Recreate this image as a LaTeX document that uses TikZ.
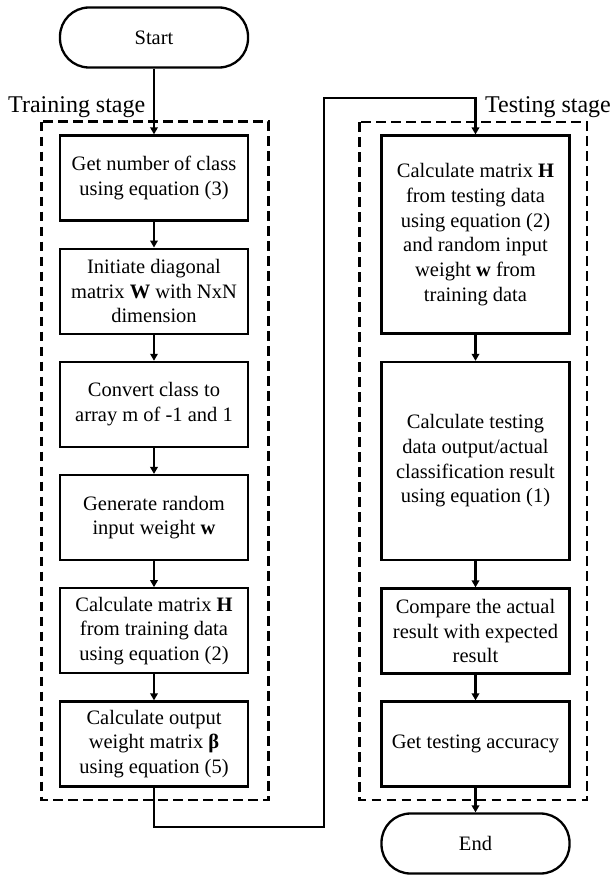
\documentclass[tikz,border=0pt]{standalone}
\usepackage{fontspec}
\setmainfont{Liberation Serif}
\usetikzlibrary{arrows.meta}

\begin{document}
\begin{tikzpicture}[x=1pt,y=-1pt,
  stepbox/.style={draw, line width=2.3pt, minimum width=188pt, align=center,
    inner sep=2pt, font=\fontsize{20.5}{24.7}\selectfont},
  term/.style={draw, line width=2.3pt, rounded corners=29pt, minimum width=188pt,
    minimum height=60pt, font=\fontsize{20.5}{24.7}\selectfont},
  stage/.style={draw, line width=2.3pt, dash pattern=on 9.5pt off 5.5pt},
  flow/.style={line width=2.3pt, -{Triangle[length=7pt,width=7.5pt]}},
  lbl/.style={font=\fontsize{24}{28}\selectfont, anchor=base west, inner sep=0pt}]
\useasboundingbox (0,0) rectangle (613,875);

% stage frames
\draw[stage] (41.5,121.5) rectangle (268.5,800);
\draw[stage] (359.5,122) rectangle (587,800);
\node[lbl] (trainlbl) at (8,112) {Training stage};
\node[lbl] (testlbl) at (485,112) {Testing stage};

% terminals
\node[term] (start) at (154,37.5) {Start};
\node[term] (end) at (475.5,843.5) {End};

% training stage
\node[stepbox, minimum height=85pt] (t1) at (154,178) {Get number of class\\using equation (3)};
\node[stepbox, minimum height=85pt] (t2) at (154,291.2) {Initiate diagonal\\matrix \textbf{W} with NxN\\dimension};
\node[stepbox, minimum height=85pt] (t3) at (154,404.4) {Convert class to\\array m of -1 and 1};
\node[stepbox, minimum height=85pt] (t4) at (154,517.6) {Generate random\\input weight \textbf{w}};
\node[stepbox, minimum height=85pt] (t5) at (154,630.8) {Calculate matrix \textbf{H}\\from training data\\using equation (2)};
\node[stepbox, minimum height=85pt] (t6) at (154,744) {Calculate output\\weight matrix \textbf{β}\\using equation (5)};

% testing stage
\node[stepbox, minimum height=198pt] (e1) at (475.5,234.6) {Calculate matrix \textbf{H}\\from testing data\\using equation (2)\\and random input\\weight \textbf{w} from\\training data};
\node[stepbox, minimum height=198pt] (e2) at (475.5,461) {Calculate testing\\data output/actual\\classification result\\using equation (1)};
\node[stepbox, minimum height=85pt] (e3) at (475.5,631) {Compare the actual\\result with expected\\result};
\node[stepbox, minimum height=85pt] (e4) at (475.5,744) {Get testing accuracy};

% connectors
\draw[flow] (start) -- (t1);
\draw[flow] (t1) -- (t2);
\draw[flow] (t2) -- (t3);
\draw[flow] (t3) -- (t4);
\draw[flow] (t4) -- (t5);
\draw[flow] (t5) -- (t6);
\coordinate (low) at (154,827);
\coordinate (high) at (324,98);
\draw[flow] (t6.south) -- (low) -| (high) -| (e1.north);
\draw[flow] (e1) -- (e2);
\draw[flow] (e2) -- (e3);
\draw[flow] (e3) -- (e4);
\draw[flow] (e4) -- (end);
\end{tikzpicture}
\end{document}
